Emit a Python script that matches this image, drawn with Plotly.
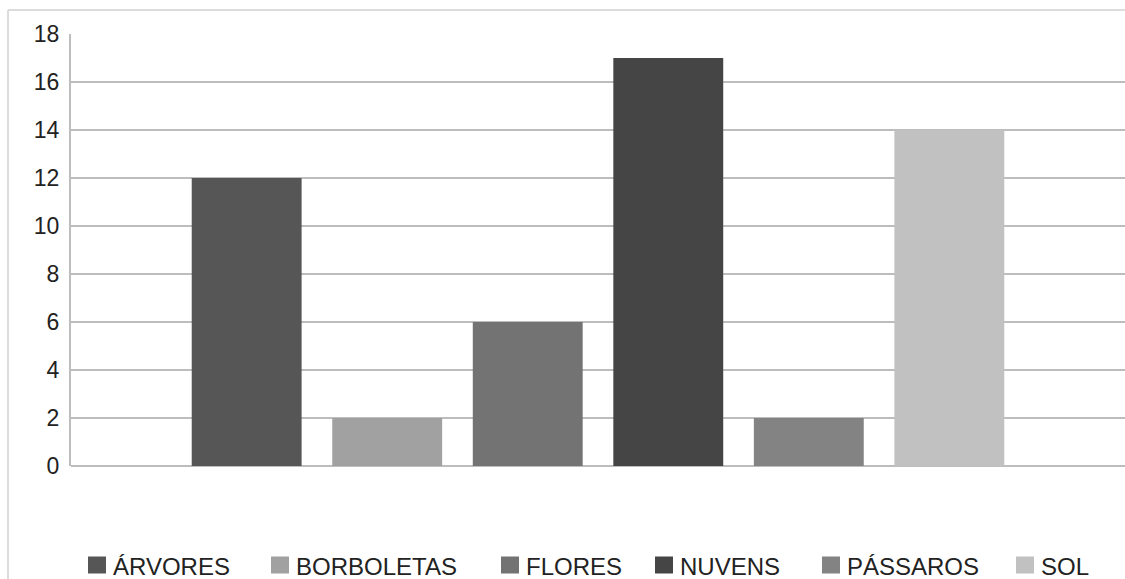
import plotly.graph_objects as go

# Contagem por categoria
categorias = ["ÁRVORES", "BORBOLETAS", "FLORES", "NUVENS", "PÁSSAROS", "SOL"]
valores = [12, 2, 6, 17, 2, 14]
cores = ["#565656", "#a1a1a1", "#737373", "#454545", "#838383", "#c1c1c1"]
y_ticks = [0, 2, 4, 6, 8, 10, 12, 14, 16, 18]

W, H = 1125, 579
ML, MR, MT, MB = 71, 0, 34, 113
PW, PH = W - ML - MR, H - MT - MB

# posição horizontal (px) do quadrado de cada item da legenda
legenda_x = [88, 271, 501, 655, 822, 1016]
LEG_Y = 565
SQ = 17


def px_x(x):
    return (x - ML) / PW


def px_y(y):
    return (H - MB - y) / PH


fig = go.Figure()
for nome, v, c in zip(categorias, valores, cores):
    fig.add_trace(go.Bar(
        x=[""], y=[v], name=nome, showlegend=False,
        marker=dict(color=c, line=dict(width=0)),
    ))

shapes = [
    # moldura externa do gráfico (lados esquerdo e superior)
    dict(type="line", xref="paper", yref="paper",
         x0=px_x(8), x1=px_x(8), y0=px_y(579), y1=px_y(10),
         line=dict(color="#d0d0d0", width=1.5), layer="below"),
    dict(type="line", xref="paper", yref="paper",
         x0=px_x(8), x1=px_x(1125), y0=px_y(10), y1=px_y(10),
         line=dict(color="#d0d0d0", width=1.5), layer="below"),
]
annotations = []
for nome, c, lx in zip(categorias, cores, legenda_x):
    shapes.append(dict(
        type="rect", xref="paper", yref="paper",
        x0=px_x(lx), x1=px_x(lx + SQ + 1),
        y0=px_y(LEG_Y + SQ / 2), y1=px_y(LEG_Y - SQ / 2),
        fillcolor=c, line=dict(width=0),
    ))
    annotations.append(dict(
        text=nome, xref="paper", yref="paper",
        x=px_x(lx + SQ + 6), y=px_y(LEG_Y + 1),
        xanchor="left", yanchor="middle", showarrow=False,
        font=dict(size=24, color="#222222"),
    ))

fig.update_layout(
    width=W, height=H,
    margin=dict(l=ML, r=MR, t=MT, b=MB, autoexpand=False),
    paper_bgcolor="white", plot_bgcolor="white",
    barmode="group", bargap=0.2, bargroupgap=0.218,
    font=dict(family="Liberation Sans, Arial, sans-serif", color="#222222"),
    showlegend=False,
    xaxis=dict(showticklabels=False, showgrid=False, zeroline=False,
               showline=False, fixedrange=True),
    yaxis=dict(
        range=[0, 18], tickvals=y_ticks, ticktext=[str(t) for t in y_ticks],
        showgrid=True, gridcolor="#bdbdbd", gridwidth=2,
        zeroline=True, zerolinecolor="#bdbdbd", zerolinewidth=2,
        showline=True, linecolor="#bdbdbd", linewidth=2,
        ticks="", ticklabelstandoff=5,
        tickfont=dict(size=23, color="#222222"),
    ),
    shapes=shapes,
    annotations=annotations,
)

fig.write_html("out.html")
